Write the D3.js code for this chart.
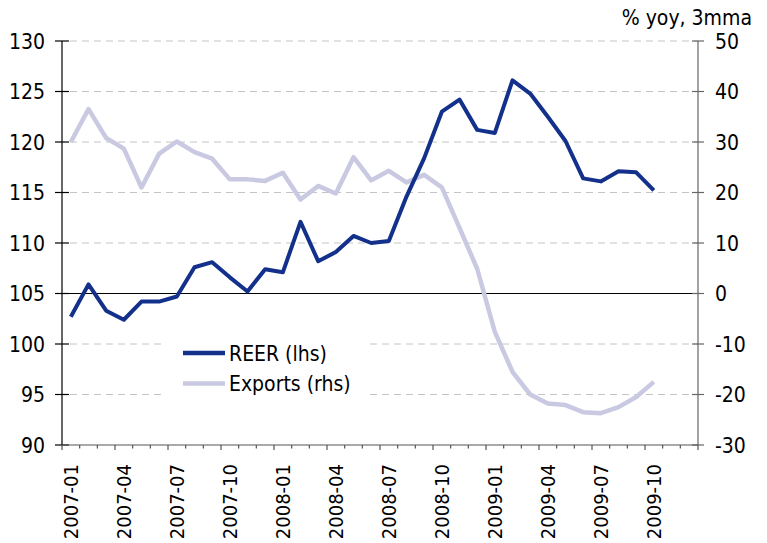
<!DOCTYPE html>
<html>
<head>
<meta charset="utf-8">
<script src="https://cdn.jsdelivr.net/npm/d3@7"></script>
<style>
  body { margin: 0; background: #fff; }
  text { font-family: "DejaVu Sans Condensed", "DejaVu Sans", sans-serif; font-stretch: condensed; fill: #000; }
</style>
</head>
<body>
<svg id="chart" width="767" height="543"></svg>
<script>
// months on the category axis (the last two slots have no data)
const months = [
  "2007-01","2007-02","2007-03","2007-04","2007-05","2007-06","2007-07","2007-08","2007-09","2007-10","2007-11","2007-12",
  "2008-01","2008-02","2008-03","2008-04","2008-05","2008-06","2008-07","2008-08","2008-09","2008-10","2008-11","2008-12",
  "2009-01","2009-02","2009-03","2009-04","2009-05","2009-06","2009-07","2009-08","2009-09","2009-10","2009-11","2009-12"
];

// REER, left axis
const reer = [
  102.7, 105.9, 103.3, 102.4, 104.2, 104.2, 104.7, 107.6, 108.1, 106.6,
  105.2, 107.4, 107.1, 112.1, 108.2, 109.1, 110.7, 110.0, 110.2, 114.6,
  118.4, 123.0, 124.2, 121.2, 120.9, 126.1, 124.8, 122.5, 120.1, 116.4,
  116.1, 117.1, 117.0, 115.2
];

// Exports % yoy 3mma, right axis
const exportsYoy = [
  30.0, 36.5, 30.8, 28.7, 21.0, 27.7, 30.1, 28.0, 26.7, 22.6,
  22.6, 22.3, 23.9, 18.6, 21.3, 19.8, 27.0, 22.4, 24.3, 22.0,
  23.5, 21.0, 13.0, 4.9, -7.6, -15.5, -20.0, -21.8, -22.1, -23.5,
  -23.7, -22.5, -20.5, -17.5
];

const leftTicks = [90, 95, 100, 105, 110, 115, 120, 125, 130];
const rightTicks = [-30, -20, -10, 0, 10, 20, 30, 40, 50];
const xLabels = months.filter((m, i) => i % 3 === 0 && i <= 33);

const margin = { top: 41, right: 69, bottom: 98, left: 62 };
const width = 767, height = 543;

const svg = d3.select("#chart");

const x = d3.scaleBand().domain(months).range([margin.left, width - margin.right]);
const yL = d3.scaleLinear().domain([90, 130]).range([height - margin.bottom, margin.top]);
const yR = d3.scaleLinear().domain([-30, 50]).range([height - margin.bottom, margin.top]);
const cx = (m) => x(m) + x.bandwidth() / 2;

const x0 = margin.left, x1 = width - margin.right;

// dashed gridlines
svg.append("g")
  .selectAll("line")
  .data(leftTicks.filter((v) => v !== 90 && v !== 105))
  .enter()
  .append("line")
  .attr("x1", x0 + 8)
  .attr("x2", x1)
  .attr("y1", (d) => yL(d))
  .attr("y2", (d) => yL(d))
  .attr("stroke", "#c4c4c4")
  .attr("stroke-width", 1)
  .attr("stroke-dasharray", "7,5");

// legend background hides gridlines
svg.append("rect")
  .attr("x", 163).attr("y", 332).attr("width", 205).attr("height", 72)
  .attr("fill", "#fff");

// zero line
svg.append("line")
  .attr("x1", x0).attr("x2", x1)
  .attr("y1", yL(105)).attr("y2", yL(105))
  .attr("stroke", "#000").attr("stroke-width", 1.2);

// left axis
const gl = svg.append("g");
gl.append("line")
  .attr("x1", x0).attr("x2", x0)
  .attr("y1", yL(90)).attr("y2", yL(130))
  .attr("stroke", "#000").attr("stroke-width", 1.2);
gl.selectAll(".tk").data(leftTicks).enter().append("line")
  .attr("x1", x0 - 7).attr("x2", x0 + 7)
  .attr("y1", (d) => yL(d)).attr("y2", (d) => yL(d))
  .attr("stroke", "#000").attr("stroke-width", 1.2);
gl.selectAll("text").data(leftTicks).enter().append("text")
  .attr("x", 45)
  .attr("y", (d) => yL(d))
  .attr("dy", "0.36em")
  .attr("text-anchor", "end")
  .style("font-size", "21px")
  .text((d) => d);

// right axis
const gr = svg.append("g");
gr.append("line")
  .attr("x1", x1).attr("x2", x1)
  .attr("y1", yR(-30)).attr("y2", yR(50))
  .attr("stroke", "#666").attr("stroke-width", 1.2);
gr.selectAll(".tk").data(rightTicks).enter().append("line")
  .attr("x1", x1 - 6).attr("x2", x1 + 6)
  .attr("y1", (d) => yR(d)).attr("y2", (d) => yR(d))
  .attr("stroke", "#666").attr("stroke-width", 1.2);
gr.selectAll("text").data(rightTicks).enter().append("text")
  .attr("x", 715)
  .attr("y", (d) => yR(d))
  .attr("dy", "0.36em")
  .style("font-size", "21px")
  .text((d) => d);

svg.append("text")
  .attr("x", 752).attr("y", 25)
  .attr("text-anchor", "end")
  .style("font-size", "21px")
  .text("% yoy, 3mma");

// bottom axis
const gb = svg.append("g");
const yb = yL(90);
gb.append("line")
  .attr("x1", x0).attr("x2", x1)
  .attr("y1", yb).attr("y2", yb)
  .attr("stroke", "#555").attr("stroke-width", 1.2);
gb.selectAll(".tk").data(months.concat(["end"])).enter().append("line")
  .attr("x1", (d) => (d === "end" ? x1 : x(d)))
  .attr("x2", (d) => (d === "end" ? x1 : x(d)))
  .attr("y1", yb)
  .attr("y2", (d, i) => yb + (i % 3 === 0 ? 5 : 3.5))
  .attr("stroke", "#555").attr("stroke-width", 1.2);
gb.selectAll("text").data(xLabels).enter().append("text")
  .attr("transform", (d) => `translate(${cx(d)},${yb + 19}) rotate(-90)`)
  .attr("dy", "0.36em")
  .attr("text-anchor", "end")
  .style("font-size", "20px")
  .text((d) => d);

// series
const lineL = d3.line().x((d, i) => cx(months[i])).y((d) => yL(d));
const lineR = d3.line().x((d, i) => cx(months[i])).y((d) => yR(d));

svg.append("path")
  .datum(exportsYoy)
  .attr("d", lineR)
  .attr("fill", "none")
  .attr("stroke", "#c9c9e2")
  .attr("stroke-width", 4.5)
  .attr("stroke-linejoin", "round");

svg.append("path")
  .datum(reer)
  .attr("d", lineL)
  .attr("fill", "none")
  .attr("stroke", "#13308b")
  .attr("stroke-width", 4)
  .attr("stroke-linejoin", "round");

// legend
const legendItems = [
  { label: "REER (lhs)", color: "#13308b" },
  { label: "Exports (rhs)", color: "#c9c9e2" }
];
const lg = svg.append("g");
legendItems.forEach((it, i) => {
  const ly = 353 + i * 30.5;
  lg.append("line")
    .attr("x1", 183).attr("x2", 225)
    .attr("y1", ly).attr("y2", ly)
    .attr("stroke", it.color).attr("stroke-width", 4.5);
  lg.append("text")
    .attr("x", 229).attr("y", ly)
    .attr("dy", "0.36em")
    .style("font-size", "21px")
    .text(it.label);
});
</script>
</body>
</html>
